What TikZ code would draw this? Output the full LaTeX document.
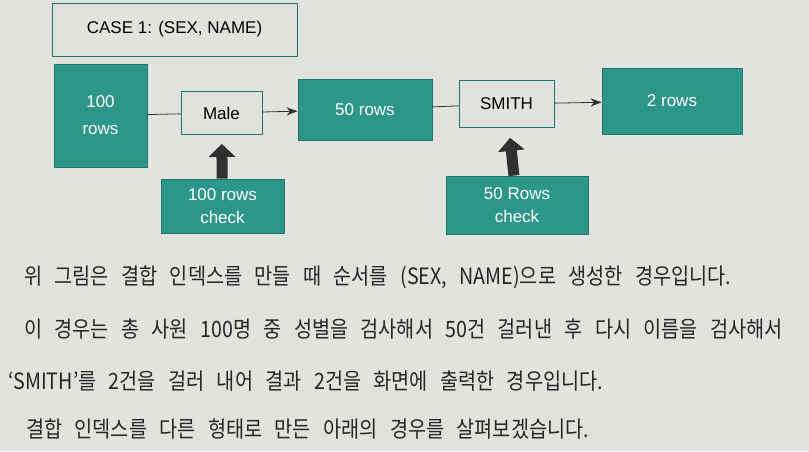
\documentclass[tikz,border=0pt]{standalone}
\usepackage{fontspec}
\setmainfont{Liberation Sans}
\newfontfamily\kofont[WordSpace=2.8,FakeStretch=0.875]{Noto Sans CJK KR}
\usetikzlibrary{arrows.meta}
\definecolor{boxteal}{RGB}{44,150,136}
\definecolor{boxedge}{RGB}{30,120,106}
\definecolor{paper}{RGB}{226,226,223}
\definecolor{inkgray}{RGB}{48,48,48}
\tikzset{
    tealbox/.style={
        draw=boxedge,
        fill=boxteal,
        text=white,
        thick,
        inner sep=0pt,
        align=center,
        font=\fontsize{17}{27}\selectfont
    },
    plainbox/.style={
        draw=boxedge,
        thick,
        inner sep=0pt,
        align=center,
        text=black,
        font=\fontsize{17}{20}\selectfont
    },
    thinarrow/.style={
        draw=inkgray,
        thick,
        -{Stealth[length=11pt,width=8pt]}
    },
    fatarrow/.style={
        draw=inkgray,
        line width=11pt,
        -{Triangle[length=13pt,width=26pt]}
    },
    bodyline/.style={
        anchor=west,
        inner sep=0pt,
        text=black!85,
        font=\kofont\fontsize{22.5}{26}\selectfont
    }
}

\begin{document}
\begin{tikzpicture}[x=1pt,y=-1pt]
    \fill[paper] (0,0) rectangle (809,451);
    \useasboundingbox (0,0) rectangle (809,451);
    \node[plainbox,minimum width=245pt,minimum height=53pt] (case) at (174.5,29.5) {CASE 1: (SEX, NAME)};
    \node[tealbox,minimum width=93pt,minimum height=103pt] (rows100) at (100.5,115.5) {100\\rows};
    \node[plainbox,minimum width=81pt,minimum height=43pt] (male) at (221.5,113) {Male};
    \node[tealbox,minimum width=134pt,minimum height=61pt] (rows50) at (365,109.5) {50 rows};
    \node[plainbox,minimum width=95pt,minimum height=47pt] (smith) at (506.5,104) {SMITH};
    \node[tealbox,minimum width=140pt,minimum height=66pt] (rows2) at (672,101) {2 rows};
    \node[tealbox,minimum width=123pt,minimum height=54pt,font=\fontsize{17}{23}\selectfont] (check100) at (222.5,206) {100 rows\\check};
    \node[tealbox,minimum width=142pt,minimum height=58pt,font=\fontsize{17}{23}\selectfont] (check50) at (517,205) {50 Rows\\check};

    \draw[inkgray,thick] (rows100) -- (male);
    \draw[thinarrow] (male) -- (rows50);
    \draw[inkgray,thick] (rows50) -- (smith);
    \draw[thinarrow] (smith) -- (rows2);
    \draw[fatarrow,shorten >=9pt] (check100) -- (male);
    \draw[fatarrow,shorten >=10pt] (check50) -- (smith);

    \node[bodyline] (line1) at (24,277) {위 그림은 결합 인덱스를 만들 때 순서를 (SEX, NAME)으로 생성한 경우입니다.};
    \node[bodyline] (line2) at (24,329) {이 경우는 총 사원 100명 중 성별을 검사해서 50건 걸러낸 후 다시 이름을 검사해서};
    \node[bodyline] (line3) at (8,381) {‘SMITH’를 2건을 걸러 내어 결과 2건을 화면에 출력한 경우입니다.};
    \node[bodyline] (line4) at (26,429) {결합 인덱스를 다른 형태로 만든 아래의 경우를 살펴보겠습니다.};
\end{tikzpicture}
\end{document}
